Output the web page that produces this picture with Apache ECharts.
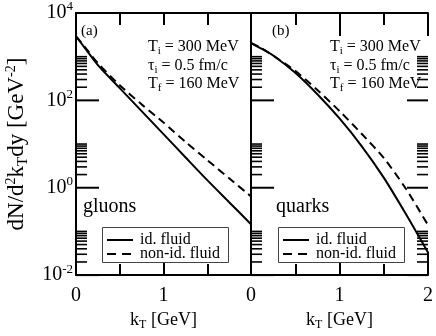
<!DOCTYPE html>
<html><head><meta charset="utf-8">
<script src="https://cdn.jsdelivr.net/npm/echarts@6/dist/echarts.min.js"></script>
<style>html,body{margin:0;padding:0;background:#fff}#c{width:436px;height:336px}</style>
</head><body><div id="c"></div>
<script>
// ---- data ----
const kT = [0, 0.1, 0.25, 0.5, 0.75, 1.0, 1.25, 1.5, 1.75, 2.0];
const gluonIdeal    = [2930, 1596, 643, 191, 56.8, 16.9, 5.0, 1.49, 0.467, 0.146];
const gluonNonIdeal = [2930, 1680, 711, 222, 81, 31, 11.3, 4.3, 1.65, 0.63];
const quarkIdeal    = [2056, 1600, 1064, 428, 138, 38.5, 9.0, 1.7, 0.25, 0.033];
const quarkNonIdeal = [2056, 1640, 1064, 474, 172, 57, 17.2, 4.8, 0.95, 0.14];
const seriesNames = ['id. fluid', 'non-id. fluid'];
const panelLabels = ['(a)', '(b)'];
const speciesLabels = ['gluons', 'quarks'];
const xTickLabels = [0, 1, 2];
const yMajorTicks = [0.01, 1, 100, 10000];
const yMinorTicks = [];
[0.01, 1, 100].forEach(d => { for (let k = 2; k <= 10; k++) yMinorTicks.push(d * k); });

const FONT = "'Liberation Serif','Times New Roman',serif";
const pair = (xs, ys) => xs.map((x, i) => [x, ys[i]]);

const richBase = {
  b: {fontFamily: FONT, fontSize: 20, color: '#000', verticalAlign: 'middle'},
  s: {fontFamily: FONT, fontSize: 13, color: '#000', padding: [0, 0, 12, 0], verticalAlign: 'middle'}
};
const expLabel = v => { const e = Math.round(Math.log10(v)); return '{b|10}{s|' + e + '}'; };

const axisLine = {show: true, lineStyle: {color: '#000', width: 2}};
function xAx(grid, pos, opts) {
  return Object.assign({
    type: 'value', gridIndex: grid, position: pos, min: 0, max: 2, interval: 1,
    axisLine, splitLine: {show: false},
    axisTick: {show: true, inside: true, length: 23, lineStyle: {color: '#000', width: 2}},
    minorTick: {show: true, splitNumber: 2, length: 11, lineStyle: {color: '#000', width: 2}},
    axisLabel: {show: false}
  }, opts);
}
function yAx(grid, pos, opts) {
  return Object.assign({
    type: 'log', logBase: 100, gridIndex: grid, position: pos, min: 0.01, max: 10000,
    axisLine, splitLine: {show: false}, axisTick: {show: false}, minorTick: {show: false},
    axisLabel: {show: false}
  }, opts);
}
const xName = {
  name: '{k|k}{t|T}{k| [GeV]}', nameLocation: 'middle', nameGap: 31,
  nameTextStyle: {rich: {
    k: {fontFamily: FONT, fontSize: 18, color: '#000', verticalAlign: 'middle'},
    t: {fontFamily: FONT, fontSize: 12, color: '#000', padding: [10, 0, 0, 0], verticalAlign: 'middle'}
  }}
};
const xLab = hide2 => ({show: true, margin: 11, color: '#000', fontFamily: FONT, fontSize: 20,
  formatter: v => (xTickLabels.indexOf(v) >= 0 && !(hide2 && v === 2)) ? String(v) : ''});

function tickSeries(xi, yi, xVal, dir, values, len, width) {
  return {
    type: 'custom', xAxisIndex: xi, yAxisIndex: yi, silent: true, z: 5, clip: false,
    data: values.map(v => [xVal, v]),
    renderItem: (params, api) => {
      const p = api.coord([api.value(0), api.value(1)]);
      return {type: 'line', shape: {x1: p[0], y1: p[1], x2: p[0] + dir * len, y2: p[1]},
        style: {stroke: '#000', lineWidth: width}};
    }
  };
}
function lineSeries(name, xi, yi, xs, ys, dashed) {
  return {type: 'line', name, xAxisIndex: xi, yAxisIndex: yi, data: pair(xs, ys),
    smooth: 0.25, symbol: 'none', clip: true,
    lineStyle: {color: '#000', width: 2, type: dashed ? [8, 5] : 'solid'}};
}
const txt = (x, y, rich, size) => ({type: 'text', x, y, z: 10, style: {
  text: rich, fill: '#000', font: size + 'px ' + FONT,
  rich: {m: {fontFamily: FONT, fontSize: size, color: '#000', verticalAlign: 'middle'},
         u: {fontFamily: FONT, fontSize: 11, color: '#000', padding: [10, 0, 0, 0], verticalAlign: 'middle'}}
}});
function annot(x) {
  return [
    txt(x, 36, '{m|T}{u|i}{m| = 300 MeV}', 16),
    txt(x, 55, '{m|τ}{u|i}{m| = 0.5 fm/c}', 16),
    txt(x, 73, '{m|T}{u|f}{m| = 160 MeV}', 16)
  ];
}
function legendBox(left) {
  const top = 227;
  return [
    {type: 'rect', z: 20, shape: {x: left + 0.5, y: top + 0.5, width: 126, height: 35},
      style: {fill: '#fff', stroke: '#444', lineWidth: 1}},
    {type: 'line', z: 21, shape: {x1: left + 5, y1: top + 13, x2: left + 31, y2: top + 13},
      style: {stroke: '#000', lineWidth: 2}},
    {type: 'line', z: 21, shape: {x1: left + 5, y1: top + 27, x2: left + 31, y2: top + 27},
      style: {stroke: '#000', lineWidth: 2, lineDash: [9, 6]}},
    {type: 'text', z: 21, x: left + 38, y: top + 13, style: {text: seriesNames[0], fill: '#000',
      font: '16px ' + FONT, verticalAlign: 'middle'}},
    {type: 'text', z: 21, x: left + 38, y: top + 27, style: {text: seriesNames[1], fill: '#000',
      font: '16px ' + FONT, verticalAlign: 'middle'}}
  ];
}

const chart = echarts.init(document.getElementById('c'), null, {renderer: 'canvas'});
chart.setOption({
  backgroundColor: '#fff',
  animation: false,
  grid: [
    {left: 76, top: 13, width: 175, height: 273},
    {left: 251, top: 13, width: 177, height: 273}
  ],
  xAxis: [
    xAx(0, 'bottom', Object.assign({axisLabel: xLab(true)}, xName)),
    xAx(0, 'top', {interval: 0.5, axisTick: {show: true, inside: true, length: 12, lineStyle: {color: '#000', width: 2}}, minorTick: {show: false}}),
    xAx(1, 'bottom', Object.assign({axisLabel: xLab(false)}, xName)),
    xAx(1, 'top', {minorTick: {show: true, splitNumber: 2, length: 12, lineStyle: {color: '#000', width: 2}}})
  ],
  yAxis: [
    yAx(0, 'left', {
      axisLabel: {show: true, margin: 3, formatter: expLabel, rich: richBase},
      name: 'dN/d{s|2}k{t|T}dy [GeV{s|-2}]', nameLocation: 'middle', nameRotate: 90, nameGap: 45,
      nameTextStyle: {fontFamily: FONT, fontSize: 23, color: '#000', rich: {
        s: {fontFamily: FONT, fontSize: 14, color: '#000', padding: [0, 0, 12, 0], verticalAlign: 'middle'},
        t: {fontFamily: FONT, fontSize: 15, color: '#000', padding: [13, 0, 0, 0], verticalAlign: 'middle'}
      }}
    }),
    yAx(0, 'right', {}),
    yAx(1, 'left', {}),
    yAx(1, 'right', {})
  ],
  series: [
    lineSeries(seriesNames[0], 0, 0, kT, gluonIdeal, false),
    lineSeries(seriesNames[1], 0, 0, kT, gluonNonIdeal, true),
    lineSeries(seriesNames[0], 2, 2, kT, quarkIdeal, false),
    lineSeries(seriesNames[1], 2, 2, kT, quarkNonIdeal, true),
    tickSeries(0, 0, 0, 1, yMajorTicks, 23, 2),
    tickSeries(0, 0, 0, 1, yMinorTicks, 11, 1.6),
    tickSeries(2, 2, 0, 1, yMajorTicks, 23, 2),
    tickSeries(2, 2, 0, 1, yMinorTicks, 11, 1.6),
    tickSeries(2, 3, 2, -1, yMajorTicks, 21, 2),
    tickSeries(2, 3, 2, -1, yMinorTicks, 11, 1.6)
  ],
  graphic: [
    txt(81, 24, '{m|' + panelLabels[0] + '}', 15),
    txt(272, 24, '{m|' + panelLabels[1] + '}', 15),
    txt(83, 197, '{m|' + speciesLabels[0] + '}', 20),
    txt(276, 197, '{m|' + speciesLabels[1] + '}', 20),
    ...annot(148),
    ...annot(330),
    ...legendBox(102),
    ...legendBox(278)
  ]
});
</script>
</body></html>
